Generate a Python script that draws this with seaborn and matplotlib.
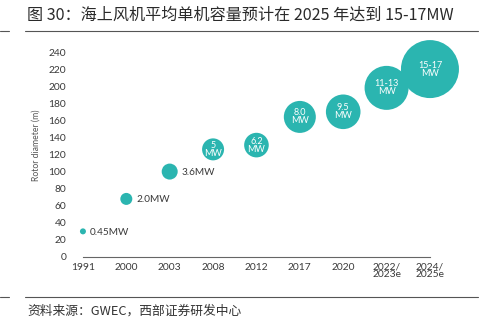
import matplotlib
matplotlib.use("Agg")
import matplotlib.pyplot as plt
import seaborn as sns
import pandas as pd

# Offshore turbine evolution: rotor diameter by year, bubble = unit capacity
years = ["1991", "2000", "2003", "2008", "2012", "2017", "2020", "2022/\n2023e", "2024/\n2025e"]
rotor_diameter = [30, 68, 100, 126, 131, 164, 170, 198, 220]
capacity_labels = ["0.45MW", "2.0MW", "3.6MW", "5\nMW", "6.2\nMW", "8.0\nMW", "9.5\nMW", "11-13\nMW", "15-17\nMW"]
label_inside = [False, False, False, True, True, True, True, True, True]
y_ticks = [0, 20, 40, 60, 80, 100, 120, 140, 160, 180, 200, 220, 240]

title = "图 30：海上风机平均单机容量预计在 2025 年达到 15-17MW"
source = "资料来源：GWEC，西部证券研发中心"

sns.set_theme(style="white")
plt.rcParams["font.family"] = ["Lato", "DejaVu Sans"]
cjk = ["Noto Sans CJK SC", "DejaVu Sans"]

teal = "#2bb5b0"
tick_color = "#3a3a3a"

df = pd.DataFrame({"year": years, "diameter": rotor_diameter, "label": capacity_labels})

fig = plt.figure(figsize=(4.84, 3.24), dpi=100)
ax = fig.add_axes([0.140, 0.2068, 0.829, 0.6907])

# bubble radii in pixels, converted to scatter marker areas (pt^2)
radius_px = [3.0, 6.0, 8.0, 11.0, 12.3, 16.0, 17.3, 22.0, 29.0]
areas = [(2 * r * 0.72) ** 2 for r in radius_px]
size_map = dict(zip(years, areas))

sns.scatterplot(data=df, x="year", y="diameter", size="year", sizes=size_map,
                color=teal, edgecolor="none", linewidth=0, legend=False,
                ax=ax, clip_on=False, zorder=3)

for i, (lab, inside) in enumerate(zip(capacity_labels, label_inside)):
    if inside:
        ax.annotate(lab, (i, rotor_diameter[i]), ha="center", va="center",
                    color="white", fontsize=6.5, linespacing=0.85, zorder=4)
    else:
        gap = (radius_px[i] + 4) * 0.72
        ax.annotate(lab, (i, rotor_diameter[i]), xytext=(gap, -0.5),
                    textcoords="offset points", ha="left", va="center",
                    color=tick_color, fontsize=7.2, zorder=4)

ax.set_xlim(-0.35, 8.9)
ax.set_ylim(0, 262)
ax.set_yticks(y_ticks)
ax.set_yticklabels([str(t) for t in y_ticks])
ax.tick_params(axis="y", length=0, pad=1, labelsize=7.4, labelcolor=tick_color)
ax.tick_params(axis="x", direction="in", length=3, width=0.8, color="#666666",
               pad=4, labelsize=7.4, labelcolor=tick_color)
for t in ax.get_xticklabels():
    t.set_linespacing(0.8)
    t.set_va("top")

for side in ["top", "right", "left"]:
    ax.spines[side].set_visible(False)
ax.spines["bottom"].set_color("#666666")
ax.spines["bottom"].set_linewidth(0.8)
ax.spines["bottom"].set_bounds(0, 8)

ax.set_xlabel("")
ax.set_ylabel("Rotor diameter (m)", fontsize=6.2, color="#555555", labelpad=6)

# Title, rules and source line
fig.text(27 / 484, 1 - 15 / 324, title, fontsize=11.6, family=cjk,
         color="#2a2a2a", ha="left", va="center")
for y in (31 / 324, 296.5 / 324):
    yy = 1 - y
    fig.add_artist(plt.Line2D([0, 9 / 484], [yy, yy], color="#555555", lw=0.8))
    fig.add_artist(plt.Line2D([25 / 484, 478 / 484], [yy, yy], color="#555555", lw=0.8))
fig.text(27 / 484, 1 - 311 / 324, source, fontsize=9.2, family=cjk,
         color="#333333", ha="left", va="center")

fig.savefig("out.png", dpi=100)
